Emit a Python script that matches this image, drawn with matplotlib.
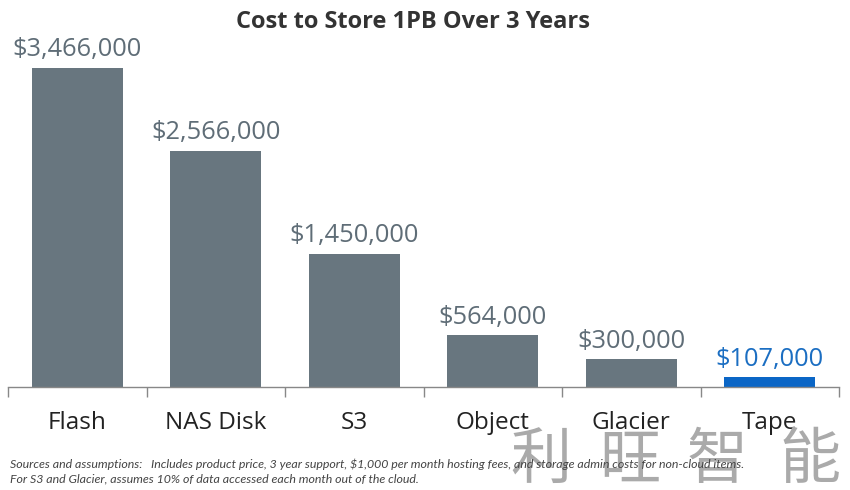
import matplotlib
matplotlib.use("Agg")
import matplotlib.pyplot as plt

categories = ["Flash", "NAS Disk", "S3", "Object", "Glacier", "Tape"]
costs = [3466000, 2566000, 1450000, 564000, 300000, 107000]
highlight = ["Tape"]

title = "Cost to Store 1PB Over 3 Years"
footnote1 = "Sources and assumptions:   Includes product price, 3 year support, $1,000 per month hosting fees, and storage admin costs for non-cloud items."
footnote2 = "For S3 and Glacier, assumes 10% of data accessed each month out of the cloud."
watermark = "利旺智能"

gray = "#68767f"
blue = "#0b66c6"
gray_txt = "#5f6d77"
blue_txt = "#1b6ec2"

fig = plt.figure(figsize=(8.5, 4.9), dpi=100)
ax = fig.add_axes([8/850, (490-387)/490, (839-8)/850, (387-40)/490])

colors = [blue if c in highlight else gray for c in categories]
x = list(range(len(categories)))
bars = ax.bar(x, costs, width=0.66, color=colors)
ax.set_xlim(-0.5, len(categories) - 0.5)
ax.set_ylim(0, 3466000 * 347 / 319)

for xi, v, c in zip(x, costs, categories):
    col = blue_txt if c in highlight else gray_txt
    ax.text(xi, v + 60000, f"${v:,}", ha="center", va="bottom",
            fontsize=18.3, color=col, family="Open Sans")

for s in ["top", "right", "left"]:
    ax.spines[s].set_visible(False)
ax.spines["bottom"].set_color("#888888")
ax.spines["bottom"].set_linewidth(1.0)
ax.set_yticks([])
ax.set_xticks([i - 0.5 for i in range(len(categories) + 1)], minor=False)
ax.set_xticklabels([])
ax.tick_params(axis="x", which="major", length=7, color="#888888", width=1.0)
ax.set_xticks(x, minor=True)
ax.set_xticklabels(categories, minor=True, fontsize=17.5, color="#222222", family="Open Sans")
ax.tick_params(axis="x", which="minor", length=0, pad=17)

fig.text(413/850, 1 - 22/490, title, ha="center", va="center", fontsize=17,
         fontweight="bold", color="#333333", family="Open Sans")

# watermark characters, widely spaced
wm_x = [541, 630, 717, 810]
for ch, wx in zip(watermark, wm_x):
    fig.text(wx/850, 1 - 461/490, ch, ha="center", va="center", fontsize=44,
             color="#aaaaaa", family="Noto Sans CJK SC")

fig.text(10/850, 1 - 464/490, footnote1, ha="left", va="center", fontsize=8.9,
         style="italic", color="#444444", family="Lato")
fig.text(10/850, 1 - 479/490, footnote2, ha="left", va="center", fontsize=8.9,
         style="italic", color="#444444", family="Lato")

fig.savefig("out.png", dpi=100)
